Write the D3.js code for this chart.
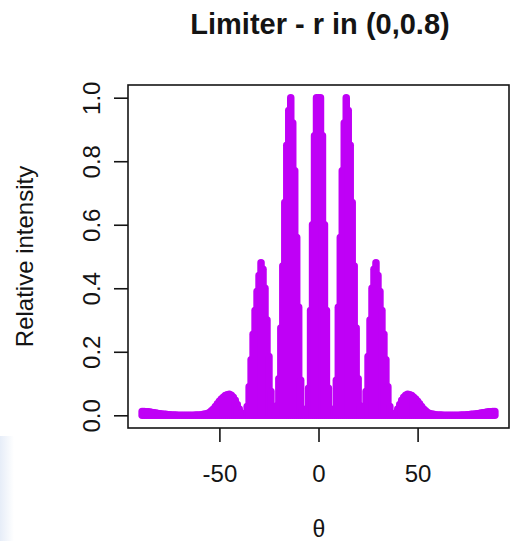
<!DOCTYPE html>
<html>
<head>
<meta charset="utf-8">
<script src="https://cdn.jsdelivr.net/npm/d3@7"></script>
<style>
  html, body { margin: 0; padding: 0; background: #fff; }
  svg { display: block; }
</style>
</head>
<body>
<script>
// Sampling grid of the pattern, in degrees (1 degree apart)
const thetaFirst = -89;
const thetaLast = 89;

// Relative intensity (fringe maxima after the limiter), one value per degree from -89 to 89
const intensity = [
  0.012, 0.012, 0.011, 0.011, 0.010, 0.009, 0.008, 0.007, 0.006, 0.005,   // -89 .. -80
  0.004, 0.003, 0.003, 0.002, 0.002, 0.001, 0.001, 0.001, 0.000, 0.000,   // -79 .. -70
  0.000, 0.000, 0.000, 0.000, 0.000, 0.000, 0.000, 0.001, 0.001, 0.001,   // -69 .. -60
  0.002, 0.003, 0.004, 0.006, 0.009, 0.014, 0.020, 0.028, 0.036, 0.044,   // -59 .. -50
  0.051, 0.057, 0.062, 0.065, 0.066, 0.063, 0.057, 0.047, 0.034, 0.020,   // -49 .. -40
  0.007, 0.001, 0.006, 0.028, 0.090, 0.175, 0.255, 0.330, 0.390, 0.440,   // -39 .. -30
  0.480, 0.460, 0.400, 0.300, 0.185, 0.075, 0.015, 0.000, 0.030, 0.115,   // -29 .. -20
  0.275, 0.470, 0.670, 0.850, 0.960, 1.000, 0.920, 0.770, 0.560, 0.340,   // -19 .. -10
  0.110, 0.020, 0.000, 0.015, 0.085, 0.330, 0.600, 0.880, 1.000,          //  -9 ..  -1
  1.000,                                                                  //   0
  1.000, 0.880, 0.600, 0.330, 0.085, 0.015, 0.000, 0.020, 0.110,          //   1 ..   9
  0.340, 0.560, 0.770, 0.920, 1.000, 0.960, 0.850, 0.670, 0.470, 0.275,   //  10 ..  19
  0.115, 0.030, 0.000, 0.015, 0.075, 0.185, 0.300, 0.400, 0.460, 0.480,   //  20 ..  29
  0.440, 0.390, 0.330, 0.255, 0.175, 0.090, 0.028, 0.006, 0.001, 0.007,   //  30 ..  39
  0.020, 0.034, 0.047, 0.057, 0.063, 0.066, 0.065, 0.062, 0.057, 0.051,   //  40 ..  49
  0.044, 0.036, 0.028, 0.020, 0.014, 0.009, 0.006, 0.004, 0.003, 0.002,   //  50 ..  59
  0.001, 0.001, 0.001, 0.000, 0.000, 0.000, 0.000, 0.000, 0.000, 0.000,   //  60 ..  69
  0.000, 0.000, 0.001, 0.001, 0.001, 0.002, 0.002, 0.003, 0.003, 0.004,   //  70 ..  79
  0.005, 0.006, 0.007, 0.008, 0.009, 0.010, 0.011, 0.011, 0.012, 0.012    //  80 ..  89
];

const xTicks = [-50, 0, 50];
const yTicks = [0, 0.2, 0.4, 0.6, 0.8, 1.0];

const titleText = "Limiter - r in (0,0.8)";
const xLabelText = "θ";
const yLabelText = "Relative intensity";

// ---- layout ----
const W = 510, H = 541;
const box = { left: 128, right: 509, top: 85, bottom: 428 };
const font = "'Liberation Sans', Arial, Helvetica, sans-serif";
const lineColor = "#bf00f6";
const ink = "#141414";

const svg = d3.select("body").append("svg")
  .attr("width", W).attr("height", H)
  .attr("viewBox", `0 0 ${W} ${H}`);

// faint tint along the lower-left edge of the page
const defs = svg.append("defs");
const grad = defs.append("linearGradient").attr("id", "edgeTint")
  .attr("x1", 0).attr("x2", 1).attr("y1", 0).attr("y2", 0);
grad.append("stop").attr("offset", 0).attr("stop-color", "#e6edf8").attr("stop-opacity", 1);
grad.append("stop").attr("offset", 1).attr("stop-color", "#e6edf8").attr("stop-opacity", 0);
svg.append("rect").attr("x", 0).attr("y", 436).attr("width", 14).attr("height", H - 436)
  .attr("fill", "url(#edgeTint)");

// R-style 4% padding on both axes
function padded(lo, hi) {
  const p = (hi - lo) * 0.04;
  return [lo - p, hi + p];
}

const theta = d3.range(thetaFirst, thetaLast + 1);
const data = theta.map((t, i) => ({ t, v: intensity[i] }));

const x = d3.scaleLinear().domain(padded(thetaFirst, thetaLast)).range([box.left, box.right]);
const y = d3.scaleLinear().domain(padded(0, 1)).range([box.bottom, box.top]);

// ---- fringes: one heavy vertical stroke per sample, from 0 up to its intensity ----
svg.append("g")
  .selectAll("line")
  .data(data)
  .join("line")
  .attr("x1", d => x(d.t)).attr("x2", d => x(d.t))
  .attr("y1", y(0)).attr("y2", d => y(d.v))
  .attr("stroke", lineColor)
  .attr("stroke-width", 7.5)
  .attr("stroke-linecap", "round");

// ---- axes ----
const xAxis = svg.append("g")
  .attr("transform", `translate(0,${box.bottom})`)
  .call(d3.axisBottom(x).tickValues(xTicks).tickSize(14).tickFormat(d => String(d)));
xAxis.select(".domain").remove();
xAxis.selectAll(".tick line").attr("stroke", ink).attr("stroke-width", 1.6);
xAxis.selectAll(".tick text")
  .attr("y", 53.5).attr("dy", 0)
  .attr("font-family", font).attr("font-size", 24).attr("fill", ink);

const yAxis = svg.append("g")
  .attr("transform", `translate(${box.left},0)`)
  .call(d3.axisLeft(y).tickValues(yTicks).tickSize(14).tickFormat(d3.format(".1f")));
yAxis.select(".domain").remove();
yAxis.selectAll(".tick line").attr("stroke", ink).attr("stroke-width", 1.6);
yAxis.selectAll(".tick text")
  .attr("x", 0).attr("y", -28).attr("dy", 0)
  .attr("transform", "rotate(-90)")
  .attr("text-anchor", "middle")
  .attr("font-family", font).attr("font-size", 24).attr("fill", ink);

// plot frame
svg.append("rect")
  .attr("x", box.left).attr("y", box.top)
  .attr("width", box.right - box.left).attr("height", box.bottom - box.top)
  .attr("fill", "none").attr("stroke", ink).attr("stroke-width", 1.6);

// ---- titles ----
svg.append("text")
  .attr("x", 320).attr("y", 34)
  .attr("text-anchor", "middle")
  .attr("font-family", font).attr("font-size", 29).attr("font-weight", "bold")
  .attr("fill", ink)
  .text(titleText);

svg.append("text")
  .attr("x", 319).attr("y", 537)
  .attr("text-anchor", "middle")
  .attr("font-family", font).attr("font-size", 23)
  .attr("fill", ink)
  .text(xLabelText);

svg.append("text")
  .attr("transform", `translate(33,${(box.top + box.bottom) / 2}) rotate(-90)`)
  .attr("text-anchor", "middle")
  .attr("font-family", font).attr("font-size", 24)
  .attr("fill", ink)
  .text(yLabelText);
</script>
</body>
</html>
